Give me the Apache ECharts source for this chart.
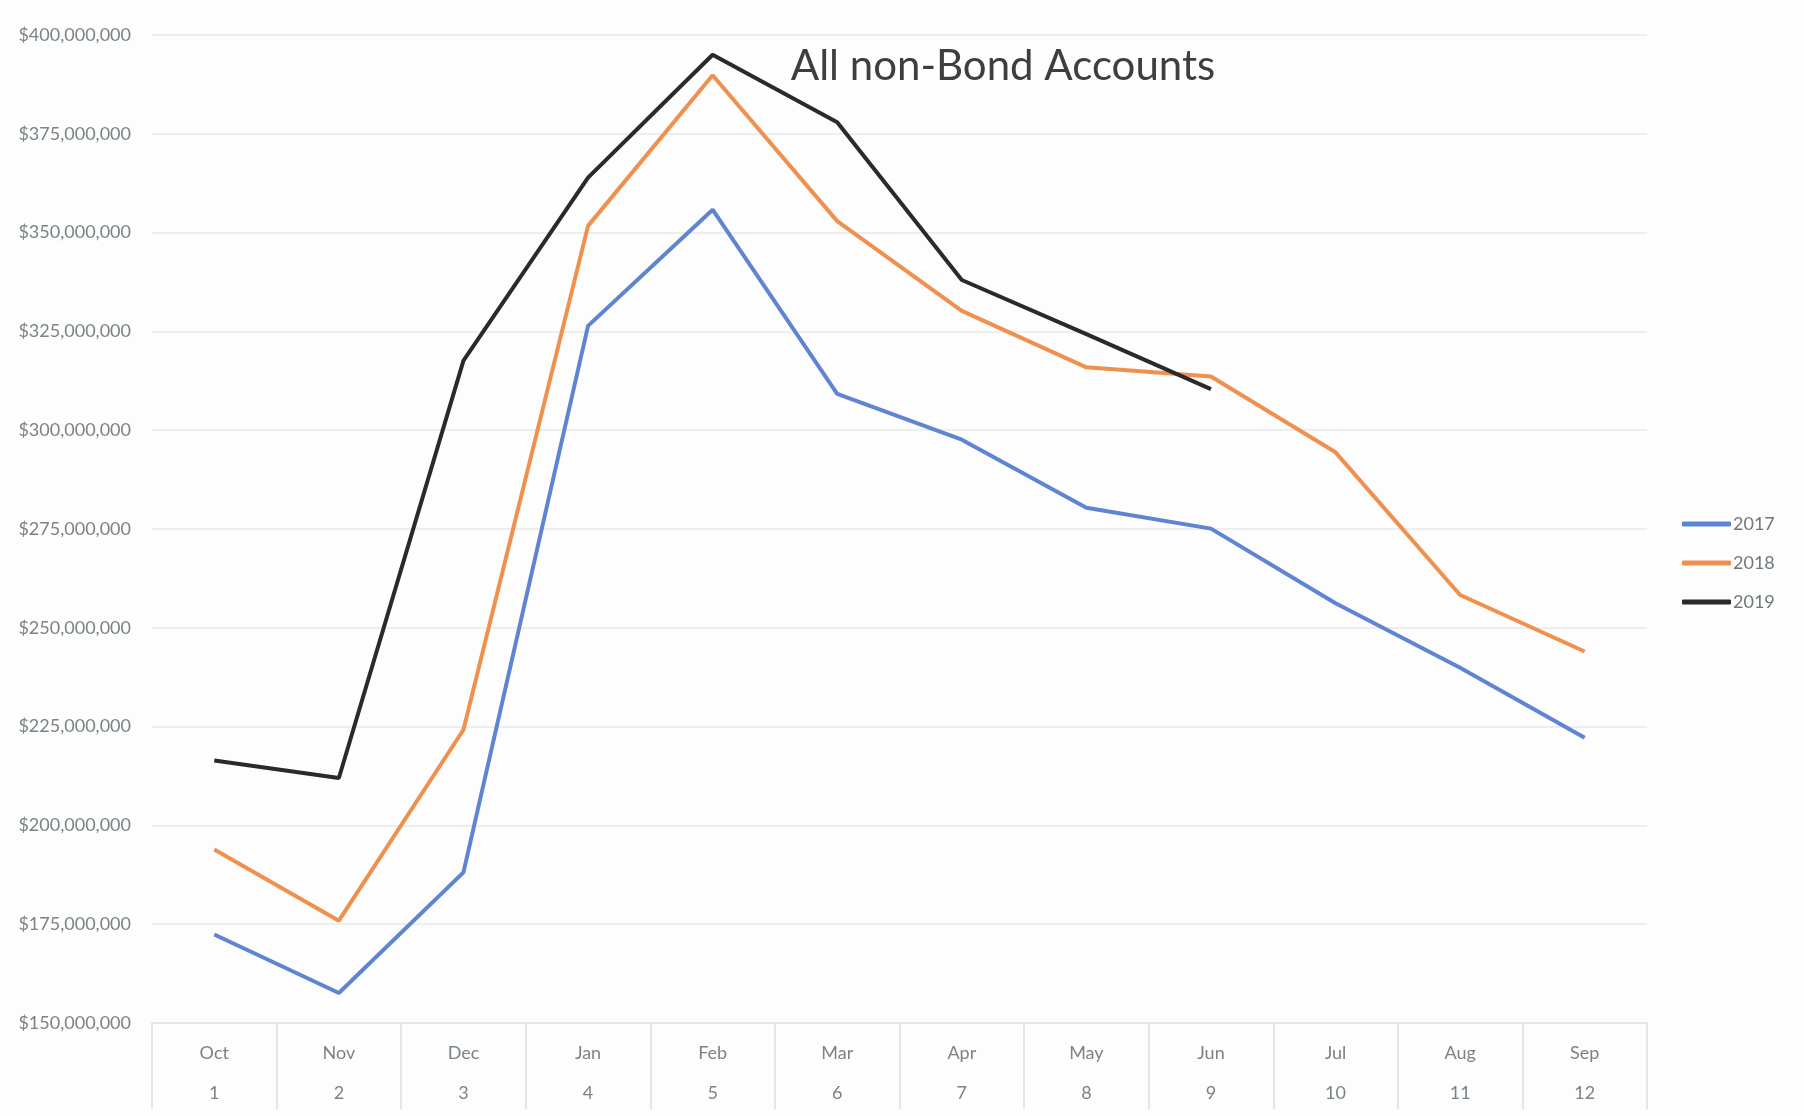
<!DOCTYPE html>
<html>
<head>
<meta charset="utf-8">
<script src="https://cdn.jsdelivr.net/npm/echarts@6/dist/echarts.min.js"></script>
<style>
  html, body { margin: 0; padding: 0; background: #fdfdfd; }
  #main { width: 1803px; height: 1116px; }
</style>
</head>
<body>
<div id="main"></div>
<script>
// months of the fiscal year, with the month number shown under each
var months = ['Oct', 'Nov', 'Dec', 'Jan', 'Feb', 'Mar', 'Apr', 'May', 'Jun', 'Jul', 'Aug', 'Sep'];
var monthNums = ['1', '2', '3', '4', '5', '6', '7', '8', '9', '10', '11', '12'];

// balances in dollars
var y2017 = [172400000, 157600000, 188100000, 326400000, 355800000, 309200000, 297600000, 280400000, 275100000, 256200000, 239900000, 222200000];
var y2018 = [193900000, 175900000, 224200000, 351700000, 389800000, 352900000, 330200000, 315900000, 313600000, 294400000, 258300000, 244000000];
var y2019 = [216400000, 212000000, 317600000, 363900000, 395000000, 377900000, 338000000, 324300000, 310400000, null, null, null];

var chart = echarts.init(document.getElementById('main'));

function money(v) {
  return '$' + v.toString().replace(/\B(?=(\d{3})+(?!\d))/g, ',');
}

var option = {
  backgroundColor: '#fdfdfd',
  title: {
    text: 'All non-Bond Accounts',
    left: 998,
    textAlign: 'center',
    top: 40,
    textStyle: {
      fontFamily: 'Lato',
      fontWeight: 'normal',
      fontSize: 42,
      color: '#3d3f3e'
    }
  },
  legend: {
    orient: 'vertical',
    left: 1677,
    top: 509,
    itemWidth: 49,
    itemHeight: 5,
    itemGap: 19,
    icon: 'roundRect',
    textStyle: {
      fontFamily: 'Lato',
      fontSize: 18,
      lineHeight: 20,
      color: '#6f7a76',
      padding: [0, 0, 0, -3]
    },
    data: ['2017', '2018', '2019']
  },
  grid: {
    left: 152,
    right: 156,
    top: 35,
    bottom: 93
  },
  xAxis: {
    type: 'category',
    boundaryGap: true,
    data: months,
    axisLine: { show: true, lineStyle: { color: '#e6e6e6', width: 2 } },
    axisTick: {
      show: true,
      alignWithLabel: false,
      length: 86,
      lineStyle: { color: '#e6e6e6', width: 2 }
    },
    axisLabel: {
      margin: 10,
      fontFamily: 'Lato',
      fontSize: 18,
      lineHeight: 40,
      color: '#7a8480',
      formatter: function (v, i) {
        return v + '\n' + monthNums[i];
      }
    },
    splitLine: { show: false }
  },
  yAxis: {
    type: 'value',
    min: 150000000,
    max: 400000000,
    interval: 25000000,
    axisLine: { show: false },
    axisTick: { show: false },
    axisLabel: {
      margin: 21,
      fontFamily: 'Lato',
      fontSize: 18,
      color: '#7a8480',
      formatter: money
    },
    splitLine: { lineStyle: { color: '#eeeeee', width: 2 } }
  },
  series: [
    {
      name: '2017',
      type: 'line',
      data: y2017,
      symbol: 'none',
      color: '#5f84d2',
      lineStyle: { width: 4 }
    },
    {
      name: '2018',
      type: 'line',
      data: y2018,
      symbol: 'none',
      color: '#f0904f',
      lineStyle: { width: 4 }
    },
    {
      name: '2019',
      type: 'line',
      data: y2019,
      symbol: 'none',
      color: '#2a2a2a',
      lineStyle: { width: 4 }
    }
  ]
};

chart.setOption(option);
</script>
</body>
</html>
